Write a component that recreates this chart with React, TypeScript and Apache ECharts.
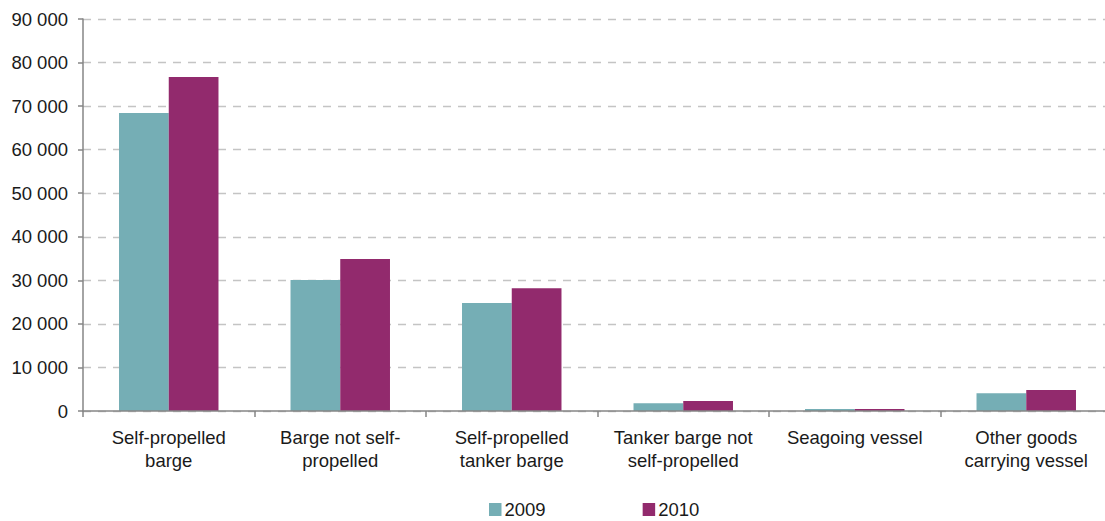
import React, { useEffect, useRef } from "react";
import * as echarts from "echarts";

// Vessel types (line breaks as they wrap under the axis)
const categories = [
  "Self-propelled\nbarge",
  "Barge not self-\npropelled",
  "Self-propelled\ntanker barge",
  "Tanker barge not\nself-propelled",
  "Seagoing vessel",
  "Other goods\ncarrying vessel",
];

const years = ["2009", "2010"];

const values2009 = [68400, 30100, 24800, 1800, 450, 4100];
const values2010 = [76700, 34900, 28200, 2300, 450, 4800];

const yTicks = { min: 0, max: 90000, interval: 10000 };

const colors = ["#75AEB5", "#922A6D"];

const FONT = "'Liberation Sans', Arial, sans-serif";
const TEXT = "#1a1a1a";

const formatThousands = (v: number) =>
  String(v).replace(/\B(?=(\d{3})+(?!\d))/g, " ");

export default function App() {
  const ref = useRef<HTMLDivElement>(null);

  useEffect(() => {
    if (!ref.current) return;
    const chart = echarts.init(ref.current, undefined, { renderer: "svg" });
    chart.setOption({
      animation: false,
      backgroundColor: "#ffffff",
      textStyle: { fontFamily: FONT },
      grid: { left: 83, top: 19, right: 0, bottom: 110, containLabel: false },
      legend: {
        data: years,
        left: 489,
        top: 500,
        padding: 0,
        itemWidth: 12.5,
        itemHeight: 13,
        itemGap: 97,
        icon: "rect",
        textStyle: { fontSize: 18.5, lineHeight: 14, color: TEXT, fontFamily: FONT, padding: [0, 0, 0, -2] },
      },
      xAxis: {
        type: "category",
        data: categories,
        z: 3,
        axisLine: { show: true, lineStyle: { color: "#868686", width: 1.5 } },
        axisTick: {
          show: true,
          alignWithLabel: false,
          length: 6,
          lineStyle: { color: "#868686", width: 1.5 },
        },
        axisLabel: {
          interval: 0,
          margin: 15,
          fontSize: 18.5,
          lineHeight: 23,
          color: TEXT,
          fontFamily: FONT,
        },
      },
      yAxis: {
        type: "value",
        min: yTicks.min,
        max: yTicks.max,
        interval: yTicks.interval,
        axisLine: { show: true, lineStyle: { color: "#868686", width: 1.5 } },
        axisTick: { show: true, length: 5, lineStyle: { color: "#868686", width: 1.5 } },
        axisLabel: {
          margin: 15,
          fontSize: 18.5,
          color: TEXT,
          fontFamily: FONT,
          formatter: (v: number) => formatThousands(v),
        },
        splitLine: {
          show: true,
          lineStyle: { color: "#c4c4c4", width: 1.3, type: [8, 7] },
        },
      },
      series: [
        {
          name: years[0],
          type: "bar",
          data: values2009,
          itemStyle: { color: colors[0] },
          barGap: "0%",
          barCategoryGap: "42%",
        },
        {
          name: years[1],
          type: "bar",
          data: values2010,
          itemStyle: { color: colors[1] },
          barGap: "0%",
          barCategoryGap: "42%",
        },
      ],
    });
    return () => chart.dispose();
  }, []);

  // The chart canvas is a little wider than the visible frame, so the
  // last category runs off the right edge.
  return (
    <div
      style={{
        position: "fixed",
        left: 0,
        top: 0,
        width: 1105,
        height: 521,
        overflow: "hidden",
        background: "#fff",
      }}
    >
      <div ref={ref} style={{ width: 1112, height: 521 }} />
    </div>
  );
}
